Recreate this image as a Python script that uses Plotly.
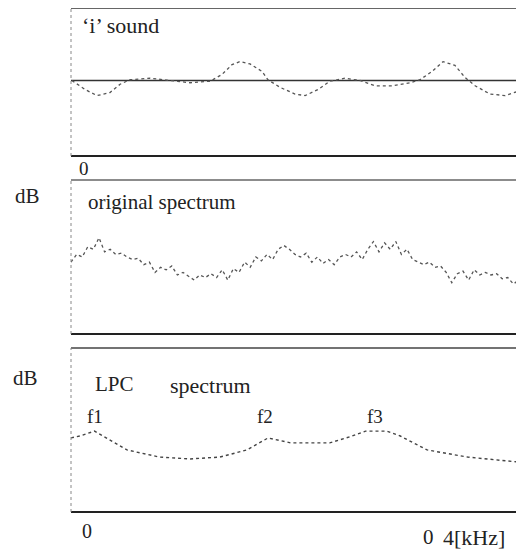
import plotly.graph_objects as go

# page has an 8px body margin, so the figure is sized to the visible area
OFF = 8
W, H = 524 - OFF, 554 - OFF

# ---- data ----
wave_t_ms = [0.04, 0.63, 1.16, 1.74, 2.19, 2.63, 3.53, 4.42, 5.31, 6.21, 6.74, 7.19, 7.54, 7.99,
             8.53, 8.79, 9.33, 10.0, 10.45, 11.03, 11.56, 12.23, 12.9, 13.57, 14.33, 15.13, 15.58,
             16.12, 16.61, 17.14, 17.59, 18.04, 18.71, 19.38, 20.0]
wave_amp = [0.0, -0.12, -0.2, -0.16, -0.05, 0.01, 0.03, 0.0, -0.03, -0.01, 0.08, 0.21, 0.25, 0.22,
            0.12, 0.01, -0.09, -0.18, -0.2, -0.12, -0.01, 0.03, 0.0, -0.07, -0.07, -0.03, 0.01,
            0.12, 0.25, 0.2, 0.04, -0.07, -0.18, -0.2, -0.14]

orig_khz = [i * 0.05 for i in range(81)]
orig_db = [28, 31, 30, 34, 33, 37.5, 32, 33, 31, 31.5, 30, 29, 29.5, 27, 28, 24, 26, 25, 26.5, 23,
           24, 22.5, 21, 23, 22, 23.5, 22, 25, 21, 25.5, 24, 28, 26, 30, 28.5, 31, 29, 33, 34.5, 33,
           31, 30, 31.5, 28, 30, 27.5, 29, 27, 30, 31, 30, 32, 29, 33, 36, 32, 35.5, 33, 36, 31,
           33, 29, 28, 27, 28, 26, 26.5, 24, 20, 23.5, 24.5, 21, 25, 23, 24, 23, 23.5, 21.5, 22, 19.5, 21]

lpc_khz = [0.0, 0.08, 0.21, 0.35, 0.5, 0.79, 1.06, 1.33, 1.57, 1.76, 1.96, 2.31, 2.49, 2.63,
           2.82, 2.94, 3.18, 3.54, 3.99]
lpc_db = [27.1, 27.8, 29.6, 26.4, 22.7, 20.1, 19.4, 20.1, 22.7, 27.1, 25.3, 25.3, 27.5, 29.6,
          29.6, 27.8, 22.7, 20.1, 18.3]

formant_labels = ["f1", "f2", "f3"]
formant_khz = [0.21, 1.73, 2.71]

# ---- layout helpers (reference pixel coords -> paper) ----
def py(p):
    return min(1.0, max(0.0, 1 - (p - OFF) / H))

def px(p):
    return min(1.0, max(0.0, (p - OFF) / W))

XDOM = [px(71), px(519)]
fig = go.Figure()

fig.add_trace(go.Scatter(x=[0, 20], y=[0, 0], mode="lines", line=dict(color="#333", width=1.6),
                         xaxis="x", yaxis="y", hoverinfo="skip"))
fig.add_trace(go.Scatter(x=wave_t_ms, y=wave_amp, mode="lines", line=dict(color="#555", width=1.3, dash="dot"),
                         xaxis="x", yaxis="y"))
fig.add_trace(go.Scatter(x=orig_khz, y=orig_db, mode="lines", line=dict(color="#555", width=1.3, dash="dot"),
                         xaxis="x2", yaxis="y2"))
fig.add_trace(go.Scatter(x=lpc_khz, y=lpc_db, mode="lines", line=dict(color="#444", width=1.4, dash="dot"),
                         xaxis="x3", yaxis="y3"))

ax_common = dict(showgrid=False, zeroline=False, showticklabels=False, ticks="", showline=False)
fig.update_layout(
    width=W, height=H, margin=dict(l=0, r=0, t=0, b=0),
    paper_bgcolor="white", plot_bgcolor="white", showlegend=False,
    font=dict(family="Liberation Serif", color="#222"),
    xaxis=dict(domain=XDOM, range=[0, 20], anchor="y", **ax_common),
    yaxis=dict(domain=[py(156), py(8)], range=[-1, 0.96], anchor="x", **ax_common),
    xaxis2=dict(domain=XDOM, range=[0, 4], anchor="y2", **ax_common),
    yaxis2=dict(domain=[py(334), py(180)], range=[0, 60], anchor="x2", **ax_common),
    xaxis3=dict(domain=XDOM, range=[0, 4], anchor="y3", **ax_common),
    yaxis3=dict(domain=[py(512), py(348)], range=[0, 60], anchor="x3", **ax_common),
)

# panel frames
for xa, ya, topc in [("x", "y", "#333"), ("x2", "y2", "#666"), ("x3", "y3", "#444")]:
    xr, yr = xa + " domain", ya + " domain"
    fig.add_shape(type="line", xref=xr, yref=yr, x0=0, x1=1, y0=1, y1=1, line=dict(color=topc, width=1.5))
    fig.add_shape(type="line", xref=xr, yref=yr, x0=0, x1=1, y0=0, y1=0, line=dict(color="#222", width=1.8))
    fig.add_shape(type="line", xref=xr, yref=yr, x0=0, x1=0, y0=0, y1=1, line=dict(color="#888", width=1, dash="dot"))
    fig.add_shape(type="line", xref=xr, yref=yr, x0=1, x1=1, y0=0, y1=1, line=dict(color="#888", width=1, dash="dot"))

def txt(s, x, y, size=21, anchor="left"):
    fig.add_annotation(text=s, x=px(x), y=py(y), xref="paper", yref="paper", showarrow=False,
                       xanchor=anchor, yanchor="middle", font=dict(size=size, family="Liberation Serif", color="#222"))

txt("\u2018i\u2019 sound", 80, 25, 22)
txt("0", 84, 168, 19, "center")
txt("dB", 13, 196, 21)
txt("original spectrum", 86, 202, 21)
txt("dB", 11, 378, 21)
txt("LPC", 93, 384, 21)
txt("spectrum", 168, 385, 22)
txt("0", 87, 531, 20, "center")
txt("0", 421, 537, 21)
txt("4[kHz]", 441, 537, 22)

for lab, fk in zip(formant_labels, formant_khz):
    fig.add_annotation(text=lab, x=fk, y=34.8, xref="x3", yref="y3", showarrow=False,
                       xanchor="center", yanchor="middle", font=dict(size=19, family="Liberation Serif", color="#222"))

fig.write_html("out.html")
